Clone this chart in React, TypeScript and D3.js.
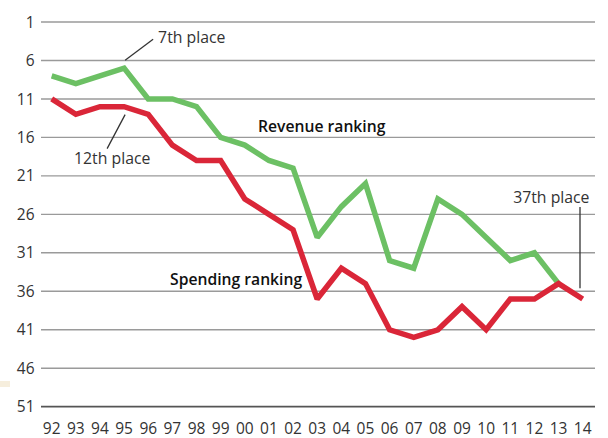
import React from "react";
import * as d3 from "d3";

const years = ["92","93","94","95","96","97","98","99","00","01","02","03","04","05","06","07","08","09","10","11","12","13","14"];
const revenueRanking: (number | null)[] = [8,9,8,7,11,11,12,16,17,19,20,29,25,22,32,33,24,26,29,32,31,35,null];
const spendingRanking: number[] = [11,13,12,12,13,17,19,19,24,26,28,37,33,35,41,42,41,38,41,37,37,35,37];
const rankTicks = [1,6,11,16,21,26,31,36,41,46,51];

const W = 608, H = 438;
const FONT = "'Open Sans', 'Noto Sans', sans-serif";

export default function App() {
  const x = d3.scalePoint<string>().domain(years).range([51.7, 582.7]);
  const y = d3.scaleLinear().domain([1, 51]).range([22, 406.7]);
  const gridX0 = 41, gridX1 = 595;

  const line = d3.line<number | null>()
    .defined((d) => d != null)
    .x((_, i) => x(years[i]) as number)
    .y((d) => y(d as number));

  const revPath = line(revenueRanking) || "";
  const spendPath = line(spendingRanking) || "";

  const p95x = x("95") as number;
  const p14x = x("14") as number;

  return (
    <svg width={W} height={H} style={{ position: "absolute", left: 0, top: 0, background: "#fff" }}>
      <rect x={0} y={0} width={W} height={H} fill="#fff" />
      <rect x={0} y={381} width={10} height={6} fill="#f6eedd" />
      {rankTicks.map((t) => (
        <g key={t}>
          <line x1={gridX0} x2={gridX1} y1={y(t)} y2={y(t)}
            stroke={t === 51 ? "#555" : "#9a9a9a"} strokeWidth={t === 51 ? 1.8 : 1.4} />
          <text x={34.5} y={y(t)} dy="0.36em" textAnchor="end" fontFamily={FONT} fontSize={15.5} fill="#333">{t}</text>
        </g>
      ))}
      {years.map((yr) => (
        <text key={yr} x={x(yr) as number} y={433.5} textAnchor="middle" fontFamily={FONT} fontSize={15.5} fill="#333">{yr}</text>
      ))}
      <path d={revPath} fill="none" stroke="#6cc064" strokeWidth={5.5} strokeLinejoin="miter" strokeMiterlimit={2} />
      <path d={spendPath} fill="none" stroke="#da2638" strokeWidth={5.5} strokeLinejoin="miter" strokeMiterlimit={2} />

      <line x1={p95x + 1} y1={y(7) - 8} x2={p95x + 29} y2={y(7) - 29} stroke="#333" strokeWidth={1.3} />
      <text x={p95x + 34} y={43} fontFamily={FONT} fontSize={15.8} fill="#333">7th place</text>

      <line x1={p95x + 1} y1={y(12) + 8} x2={p95x - 17} y2={y(12) + 42} stroke="#333" strokeWidth={1.3} />
      <text x={74} y={163.5} fontFamily={FONT} fontSize={15.8} fill="#333">12th place</text>

      <line x1={p14x - 2.7} y1={207} x2={p14x - 2.7} y2={y(36) - 3} stroke="#333" strokeWidth={1.3} />
      <text x={589.5} y={203} textAnchor="end" fontFamily={FONT} fontSize={15.8} fill="#333">37th place</text>

      <text x={258} y={132} fontFamily={FONT} fontSize={15.7} fontWeight={600} fill="#111">Revenue ranking</text>
      <text x={170} y={284.5} fontFamily={FONT} fontSize={15.7} fontWeight={600} fill="#111">Spending ranking</text>
    </svg>
  );
}
